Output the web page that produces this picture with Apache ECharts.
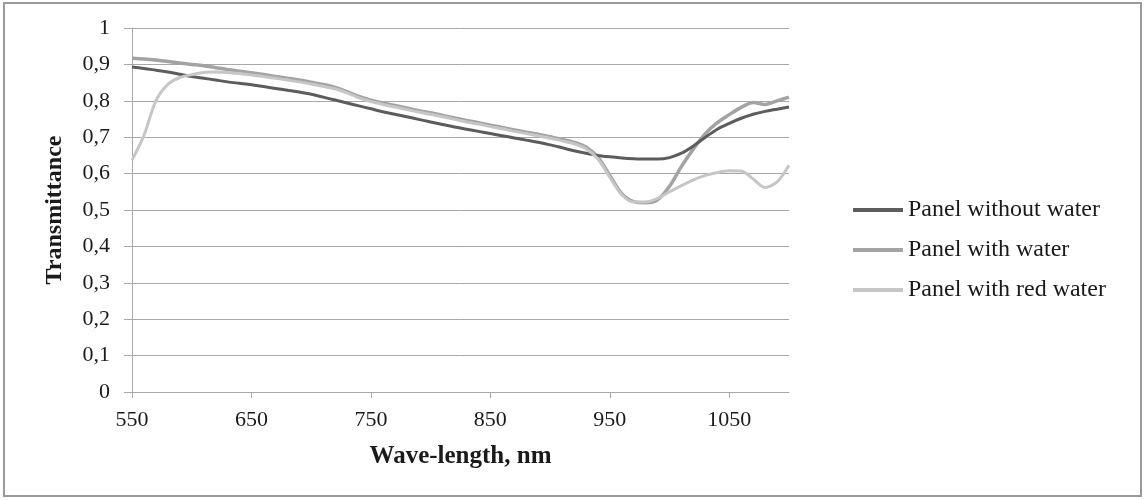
<!DOCTYPE html>
<html>
<head>
<meta charset="utf-8">
<script src="https://cdn.jsdelivr.net/npm/echarts@6/dist/echarts.min.js"></script>
<style>
  html, body { margin: 0; padding: 0; background: #fff; }
  #chart { width: 1145px; height: 500px; }
</style>
</head>
<body>
<div id="chart"></div>
<script>
// wavelength, nm (every 10 nm)
var wavelengths = [550,560,570,580,590,600,610,620,630,640,650,660,670,680,690,700,710,720,730,740,750,
  760,770,780,790,800,810,820,830,840,850,860,870,880,890,900,910,920,930,940,950,960,970,980,990,1000,
  1010,1020,1030,1040,1050,1060,1070,1080,1090,1100];

var panelWithoutWater = [0.893,0.889,0.884,0.879,0.873,0.867,0.862,0.857,0.852,0.848,0.844,0.839,0.834,0.829,0.824,0.818,
  0.810,0.802,0.794,0.786,0.778,0.770,0.763,0.756,0.749,0.742,0.735,0.728,0.722,0.716,0.710,0.704,0.698,0.692,0.686,0.679,
  0.671,0.663,0.656,0.650,0.646,0.643,0.641,0.640,0.640,0.644,0.656,0.676,0.700,0.722,0.738,0.752,0.763,0.771,0.777,0.783];

var panelWithWater = [0.917,0.915,0.912,0.908,0.904,0.900,0.896,0.891,0.886,0.881,0.877,0.872,0.867,0.862,0.857,0.851,
  0.845,0.837,0.825,0.812,0.802,0.794,0.787,0.780,0.773,0.767,0.760,0.753,0.746,0.740,0.733,0.727,0.720,0.714,0.708,0.701,
  0.694,0.686,0.673,0.645,0.595,0.545,0.523,0.520,0.528,0.565,0.620,0.668,0.710,0.740,0.762,0.782,0.795,0.790,0.800,0.810];

var panelWithRedWater = [0.637,0.705,0.800,0.845,0.864,0.872,0.878,0.879,0.878,0.875,0.871,0.867,0.862,0.857,0.852,0.846,
  0.840,0.833,0.822,0.808,0.798,0.790,0.783,0.776,0.769,0.763,0.756,0.749,0.742,0.736,0.729,0.723,0.716,0.710,0.704,0.697,
  0.690,0.682,0.668,0.640,0.590,0.542,0.522,0.522,0.532,0.550,0.567,0.583,0.595,0.603,0.608,0.607,0.585,0.562,0.577,0.623];

var xTicks = [550, 650, 750, 850, 950, 1050];
var seriesNames = ['Panel without water', 'Panel with water', 'Panel with red water'];

function pairs(ys) {
  return wavelengths.map(function (w, i) { return [w, ys[i]]; });
}

var font = '"Liberation Serif", "DejaVu Serif", serif';
var myChart = echarts.init(document.getElementById('chart'));

var option = {
  backgroundColor: '#fff',
  animation: false,
  textStyle: { fontFamily: font },
  graphic: [{
    type: 'rect',
    shape: { x: 4, y: 3, width: 1137, height: 493 },
    style: { fill: 'none', stroke: '#9a9a9a', lineWidth: 2 },
    silent: true
  }],
  grid: { left: 132, right: 356, top: 28, bottom: 108 },
  legend: {
    orient: 'vertical',
    left: 853,
    top: 198,
    padding: 0,
    icon: 'rect',
    itemWidth: 50,
    itemHeight: 4,
    itemGap: 16,
    textStyle: { fontFamily: font, fontSize: 24, color: '#1a1a1a' },
    data: seriesNames
  },
  xAxis: {
    type: 'value',
    min: 550,
    max: 1100,
    name: 'Wave-length, nm',
    nameLocation: 'middle',
    nameGap: 52,
    nameTextStyle: { fontFamily: font, fontSize: 25, fontWeight: 'bold', color: '#1a1a1a' },
    axisLine: { show: true, lineStyle: { color: '#a8a8a8', width: 1 } },
    axisTick: { show: true, length: 6, customValues: xTicks, lineStyle: { color: '#a8a8a8' } },
    axisLabel: {
      customValues: xTicks, margin: 17, fontFamily: font, fontSize: 22, color: '#1a1a1a',
      formatter: function (v) { return String(v); }
    },
    splitLine: { show: false }
  },
  yAxis: {
    type: 'value',
    min: 0,
    max: 1,
    interval: 0.1,
    name: 'Transmittance',
    nameLocation: 'middle',
    nameGap: 65,
    nameTextStyle: { fontFamily: font, fontSize: 24, fontWeight: 'bold', color: '#1a1a1a' },
    axisLine: { show: true, lineStyle: { color: '#a8a8a8', width: 1 } },
    axisTick: { show: true, length: 8, lineStyle: { color: '#a8a8a8' } },
    axisLabel: {
      margin: 22, fontFamily: font, fontSize: 22, color: '#1a1a1a',
      formatter: function (v) {
        var r = Math.round(v * 10) / 10;
        if (r === 0 || r === 1) return String(r);
        return r.toFixed(1).replace('.', ',');
      }
    },
    splitLine: { show: true, lineStyle: { color: '#a8a8a8', width: 1 } }
  },
  series: [
    {
      name: seriesNames[0], type: 'line', symbol: 'none', smooth: 0.3,
      data: pairs(panelWithoutWater), z: 3,
      lineStyle: { color: '#5c5c5c', width: 3 }, itemStyle: { color: '#5c5c5c' }
    },
    {
      name: seriesNames[1], type: 'line', symbol: 'none', smooth: 0.3,
      data: pairs(panelWithWater), z: 2,
      lineStyle: { color: '#a3a3a3', width: 3.5 }, itemStyle: { color: '#a3a3a3' }
    },
    {
      name: seriesNames[2], type: 'line', symbol: 'none', smooth: 0.3,
      data: pairs(panelWithRedWater), z: 4,
      lineStyle: { color: '#c6c6c6', width: 3 }, itemStyle: { color: '#c6c6c6' }
    }
  ]
};

myChart.setOption(option);
window.addEventListener('resize', function () {
  myChart.resize();
});
</script>
</body>
</html>
